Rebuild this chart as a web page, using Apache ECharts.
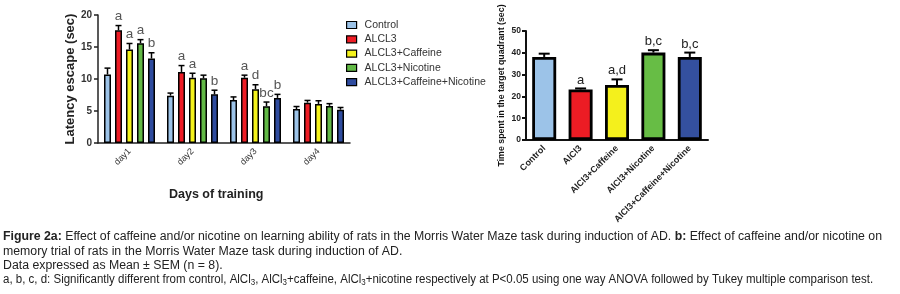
<!DOCTYPE html>
<html>
<head>
<meta charset="utf-8">
<script src="https://cdn.jsdelivr.net/npm/echarts@6/dist/echarts.min.js"></script>
<style>
  html, body { margin: 0; padding: 0; background: #fff; }
  #chart { width: 900px; height: 294px; }
</style>
</head>
<body>
<div id="chart"></div>
<script>
// ---- data ----
var days = ['day1', 'day2', 'day3', 'day4'];
var groupNames = ['Control', 'ALCL3', 'ALCL3+Caffeine', 'ALCL3+Nicotine', 'ALCL3+Caffeine+Nicotine'];

var controlMean = [10.7, 7.4, 6.7, 5.3];
var controlSem  = [1.0, 0.4, 0.5, 0.4];
var alclMean    = [17.6, 11.1, 10.2, 6.3];
var alclSem     = [0.75, 1.0, 0.4, 0.35];
var caffMean    = [14.6, 10.2, 8.4, 6.1];
var caffSem     = [0.95, 0.7, 0.7, 0.5];
var nicMean     = [15.6, 10.1, 5.75, 5.8];
var nicSem      = [0.55, 0.5, 0.65, 0.35];
var comboMean   = [13.2, 7.6, 7.05, 5.2];
var comboSem    = [0.9, 0.65, 0.55, 0.35];

var dayLetters = [
  ['', '', '', ''],
  ['a', 'a', 'a', ''],
  ['a', 'a', 'd', ''],
  ['a', '', 'bc', ''],
  ['b', 'b', 'b', '']
];

var memGroups = ['Control', 'AlCl3', 'AlCl3+Caffeine', 'AlCl3+Nicotine', 'AlCl3+Caffeine+Nicotine'];
var memMean = [38.1, 23.2, 25.2, 40.1, 38.1];
var memSem  = [1.5, 0.45, 2.6, 1.1, 2.0];
var memLetters = ['', 'a', 'a,d', 'b,c', 'b,c'];

var leftColors  = ['#9cc3e8', '#ee1c25', '#f5f31c', '#62b946', '#2f4c9f'];
var rightColors = ['#9cc3e8', '#ec1c24', '#f4f01c', '#67bd45', '#34509f'];

var FONT = 'Liberation Sans, Arial, sans-serif';

var means = [controlMean, alclMean, caffMean, nicMean, comboMean];
var sems  = [controlSem, alclSem, caffSem, nicSem, comboSem];

var BAR_W = 7, BAR_GAP = 4;

function errorSeries(xi, yi, data, offset, capW, lw, font, color) {
  return {
    type: 'custom',
    xAxisIndex: xi,
    yAxisIndex: yi,
    z: 5,
    silent: true,
    data: data,
    renderItem: function (params, api) {
      var top = api.coord([api.value(0), api.value(1) + api.value(2)]);
      var base = api.coord([api.value(0), api.value(1)]);
      var px = top[0] + offset;
      var letter = data[params.dataIndex][3];
      var kids = [
        { type: 'line', shape: { x1: px, y1: base[1], x2: px, y2: top[1] },
          style: { stroke: '#000', lineWidth: lw } },
        { type: 'line', shape: { x1: px - capW / 2, y1: top[1], x2: px + capW / 2, y2: top[1] },
          style: { stroke: '#000', lineWidth: lw } }
      ];
      if (letter) {
        kids.push({ type: 'text', style: { text: letter, x: px, y: top[1] - 2,
          align: 'center', verticalAlign: 'bottom', font: font, fill: color } });
      }
      return { type: 'group', children: kids };
    }
  };
}

var series = [];
groupNames.forEach(function (name, i) {
  series.push({
    name: name, type: 'bar', xAxisIndex: 0, yAxisIndex: 0,
    barWidth: BAR_W, barGap: (BAR_GAP / BAR_W * 100) + '%',
    itemStyle: { color: leftColors[i], borderColor: '#000', borderWidth: 1.5 },
    data: means[i]
  });
});
groupNames.forEach(function (name, i) {
  var d = days.map(function (day, k) { return [k, means[i][k], sems[i][k], dayLetters[i][k]]; });
  series.push(errorSeries(0, 0, d, (i - 2) * (BAR_W + BAR_GAP), 6, 1.5, '13.5px ' + FONT, '#555'));
});

series.push({
  type: 'bar', xAxisIndex: 1, yAxisIndex: 1, barWidth: 24,
  data: memMean.map(function (v, i) {
    return { value: v, itemStyle: { color: rightColors[i] } };
  }),
  itemStyle: { borderColor: '#000', borderWidth: 2.8 }
});
series.push(errorSeries(1, 1, memGroups.map(function (g, i) {
  return [i, memMean[i], memSem[i], memLetters[i]];
}), 0, 11, 2, '13px ' + FONT, '#222'));

var chart = echarts.init(document.getElementById('chart'));
chart.setOption({
  animation: false,
  backgroundColor: '#fff',
  textStyle: { fontFamily: FONT },
  grid: [
    { left: 98, top: 15, width: 252, height: 128 },
    { left: 526, top: 31, width: 182, height: 109 }
  ],
  legend: {
    data: groupNames, orient: 'vertical', left: 341, top: 14,
    icon: 'rect',
    itemWidth: 10, itemHeight: 7, itemGap: 2.3,
    itemStyle: { borderColor: '#000', borderWidth: 1.2 },
    textStyle: { fontSize: 10.5, color: '#333', lineHeight: 12, padding: [0, 0, 0, 3] },
    selectedMode: false
  },
  xAxis: [
    { type: 'category', gridIndex: 0, data: days,
      axisLine: { lineStyle: { color: '#222', width: 1.5 } },
      axisTick: { alignWithLabel: true, length: 4, lineStyle: { color: '#222', width: 1.5 } },
      axisLabel: { rotate: 45, fontSize: 9, color: '#333', margin: 7 } },
    { type: 'category', gridIndex: 1, data: memGroups,
      axisLine: { lineStyle: { color: '#111', width: 2 } },
      axisTick: { alignWithLabel: true, length: 4, lineStyle: { color: '#111', width: 2 } },
      axisLabel: { rotate: 45, fontSize: 9, fontWeight: 'bold', color: '#222', margin: 7 } }
  ],
  yAxis: [
    { type: 'value', gridIndex: 0, min: 0, max: 20, interval: 5,
      name: 'Latency escape (sec)', nameLocation: 'middle', nameGap: 19,
      nameTextStyle: { fontSize: 13, fontWeight: 'bold', color: '#222' },
      splitLine: { show: false },
      axisLine: { show: true, lineStyle: { color: '#222', width: 1.5 } },
      axisTick: { show: true, length: 4, lineStyle: { color: '#222', width: 1.5 } },
      axisLabel: { fontSize: 10, fontWeight: 'bold', color: '#333', margin: 6 } },
    { type: 'value', gridIndex: 1, min: 0, max: 50, interval: 10,
      name: 'Time spent in the target quadrant (sec)', nameLocation: 'middle', nameGap: 19.5,
      nameTextStyle: { fontSize: 8.8, fontWeight: 'bold', color: '#111' },
      splitLine: { show: false },
      axisLine: { show: true, lineStyle: { color: '#111', width: 2 } },
      axisTick: { show: true, length: 4, lineStyle: { color: '#111', width: 2 } },
      axisLabel: { fontSize: 8.5, fontWeight: 'bold', color: '#222', margin: 5 } }
  ],
  graphic: [
    { type: 'text', left: 169, top: 188,
      style: { text: 'Days of training', font: 'bold 12.5px ' + FONT, fill: '#222' } },
    { type: 'text', left: 3, top: 230,
      style: {
        text: '{b|Figure 2a:} Effect of caffeine and/or nicotine on learning ability of rats in the Morris Water Maze task during induction of AD. {b|b:} Effect of caffeine and/or nicotine on\n' +
              'memory trial of rats in the Morris Water Maze task during induction of AD.\n' +
              'Data expressed as Mean \u00b1 SEM (n = 8).',
        font: '12.3px ' + FONT, fill: '#222', lineHeight: 14.2,
        rich: {
          b: { fontWeight: 'bold', fontSize: 12.3, fill: '#222', lineHeight: 14.2 }
        }
      } },
    { type: 'text', x: 3, y: 272.6, scaleX: 0.935,
      style: {
        text: 'a, b, c, d: Significantly different from control, AlCl{s|3}, AlCl{s|3}+caffeine, AlCl{s|3}+nicotine respectively at P<0.05 using one way ANOVA followed by Tukey multiple comparison test.',
        font: '12.3px ' + FONT, fill: '#222', lineHeight: 14.2,
        rich: {
          s: { fontSize: 8.5, lineHeight: 4, verticalAlign: 'bottom', fill: '#222' }
        }
      } }
  ],
  series: series
});
</script>
</body>
</html>
